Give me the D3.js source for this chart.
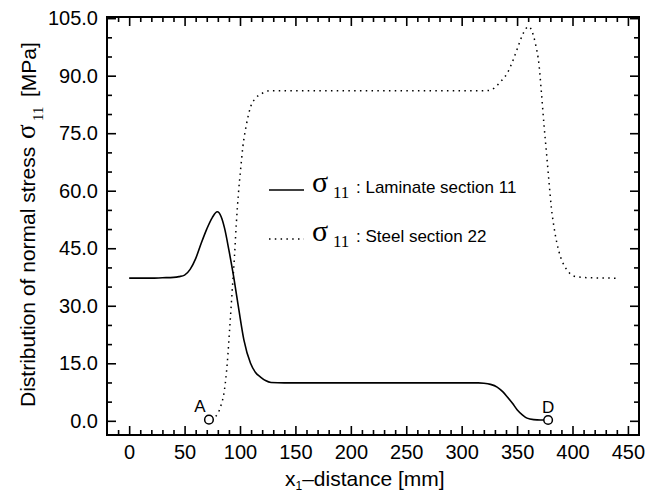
<!DOCTYPE html>
<html>
<head>
<meta charset="utf-8">
<script src="https://cdn.jsdelivr.net/npm/d3@7"></script>
<style>
  html, body { margin: 0; padding: 0; background: #fff; }
  svg { display: block; }
  text { font-family: "Liberation Sans", Arial, Helvetica, sans-serif; fill: #000; }
  .serif { font-family: "Liberation Serif", "Times New Roman", serif; }
</style>
</head>
<body>
<svg id="chart" width="658" height="494"></svg>
<script>
// ---- data ----
const laminateX = [0, 10, 20, 30, 40, 45, 50, 55, 60, 65, 70, 75, 79.5, 83, 86, 90, 94.5, 99, 103.5, 109.5, 114, 118.5, 123, 128, 140, 200, 250, 300, 315, 320, 326, 332, 337, 341, 346, 350, 355, 359, 365, 371, 378];
const laminateY = [37.2, 37.2, 37.2, 37.3, 37.4, 37.6, 38.0, 39.5, 42.3, 46.3, 50.0, 53.0, 54.5, 53.2, 50.3, 44.5, 37.2, 28.9, 21.1, 15.0, 12.6, 11.4, 10.5, 10.0, 9.9, 9.9, 9.9, 9.9, 9.9, 9.8, 9.5, 8.8, 7.6, 6.3, 4.5, 2.9, 1.5, 0.7, 0.3, 0.2, 0.2];

const steelX = [74, 78, 82.5, 86, 88.5, 90.6, 93, 95, 96.7, 98.5, 100.5, 102.6, 105.7, 109.6, 114, 120, 127.6, 140, 200, 250, 300, 318, 323, 329, 335, 341, 345.8, 350.3, 354.8, 358, 360.5, 363, 366.8, 369.8, 371.9, 374.3, 376.7, 378.8, 381, 384, 387.8, 393.9, 403, 415, 440];
const steelY = [0.3, 1.1, 3.7, 8.1, 15.0, 23.7, 34.1, 42.8, 51.5, 59.0, 65.4, 71.5, 77.1, 81.9, 84.1, 85.4, 86.1, 86.1, 86.1, 86.1, 86.1, 86.1, 86.1, 86.7, 88.4, 90.6, 93.6, 97.1, 100.6, 102.3, 102.8, 101.9, 98.0, 92.8, 85.8, 77.1, 69.3, 62.3, 55.4, 49.3, 44.1, 39.8, 37.6, 37.3, 37.2];

const xMajorTicks = [0, 50, 100, 150, 200, 250, 300, 350, 400, 450];
const xMinorTicks = d3.range(-10, 460, 10).filter(v => v % 50 !== 0);
const yMajorTicks = [0, 15, 30, 45, 60, 75, 90, 105];
const yMinorTicks = d3.range(0, 106, 5).filter(v => v % 15 !== 0);

const markerNames = ["A", "D"];
const markerX = [72, 378];
const markerY = [0.3, 0.2];

const legendLabels = [": Laminate section 11", ": Steel section 22"];

// ---- layout ----
const svg = d3.select("#chart");
const L = 107, R = 639, T = 17, B = 435;
const x = d3.scaleLinear().domain([-20, 460]).range([L, R]);
const y = d3.scaleLinear().domain([-3.7, 105.3]).range([B, T]);

function styleAxis(g) {
  g.select(".domain").remove();
  g.selectAll(".tick line").attr("stroke", "#000").attr("stroke-width", 1.6);
  g.selectAll(".tick text").style("font-size", "20px").attr("fill", "#000");
}
// bottom
svg.append("g").attr("transform", `translate(0,${B})`)
  .call(d3.axisBottom(x).tickValues(xMajorTicks).tickSize(-9).tickPadding(10).tickFormat(d3.format("d")))
  .call(styleAxis);
svg.append("g").attr("transform", `translate(0,${B})`)
  .call(d3.axisBottom(x).tickValues(xMinorTicks).tickSize(-5).tickFormat(""))
  .call(styleAxis);
// top
svg.append("g").attr("transform", `translate(0,${T})`)
  .call(d3.axisTop(x).tickValues(xMajorTicks).tickSize(-9).tickFormat(""))
  .call(styleAxis);
svg.append("g").attr("transform", `translate(0,${T})`)
  .call(d3.axisTop(x).tickValues(xMinorTicks).tickSize(-5).tickFormat(""))
  .call(styleAxis);
// left
svg.append("g").attr("transform", `translate(${L},0)`)
  .call(d3.axisLeft(y).tickValues(yMajorTicks).tickSize(-9).tickPadding(9).tickFormat(d3.format(".1f")))
  .call(styleAxis);
svg.append("g").attr("transform", `translate(${L},0)`)
  .call(d3.axisLeft(y).tickValues(yMinorTicks).tickSize(-5).tickFormat(""))
  .call(styleAxis);
// right
svg.append("g").attr("transform", `translate(${R},0)`)
  .call(d3.axisRight(y).tickValues(yMajorTicks).tickSize(-9).tickFormat(""))
  .call(styleAxis);
svg.append("g").attr("transform", `translate(${R},0)`)
  .call(d3.axisRight(y).tickValues(yMinorTicks).tickSize(-5).tickFormat(""))
  .call(styleAxis);

// frame
svg.append("rect").attr("x", L).attr("y", T).attr("width", R - L).attr("height", B - T)
  .attr("fill", "none").attr("stroke", "#000").attr("stroke-width", 2);

// curves
const line = d3.line().x(d => x(d[0])).y(d => y(d[1])).curve(d3.curveMonotoneX);
svg.append("path").datum(d3.zip(laminateX, laminateY))
  .attr("d", line).attr("fill", "none").attr("stroke", "#000").attr("stroke-width", 1.6);
svg.append("path").datum(d3.zip(steelX, steelY))
  .attr("d", line).attr("fill", "none").attr("stroke", "#000").attr("stroke-width", 1.5)
  .attr("stroke-dasharray", "1.5 4.3").attr("stroke-linecap", "butt");

// markers A and D
markerNames.forEach((name, i) => {
  svg.append("circle").attr("cx", x(markerX[i])).attr("cy", y(markerY[i])).attr("r", 4.3)
    .attr("fill", "#fff").attr("stroke", "#000").attr("stroke-width", 1.5);
});
svg.append("text").attr("x", x(markerX[0]) - 9).attr("y", y(markerY[0]) - 8)
  .attr("text-anchor", "middle").style("font-size", "17px").text(markerNames[0]);
svg.append("text").attr("x", x(markerX[1])).attr("y", y(markerY[1]) - 7.5)
  .attr("text-anchor", "middle").style("font-size", "17px").text(markerNames[1]);

// legend
const legendRows = [190, 239];
legendRows.forEach((ly, i) => {
  const ln = svg.append("line").attr("x1", 269).attr("x2", 304).attr("y1", ly).attr("y2", ly)
    .attr("stroke", "#000").attr("stroke-width", i === 0 ? 1.6 : 1.5);
  if (i === 1) ln.attr("stroke-dasharray", "1.5 4.3");
  svg.append("text").attr("class", "serif").attr("x", 312).attr("y", ly + 2)
    .style("font-size", "30px").text("σ");
  svg.append("text").attr("class", "serif").attr("x", 333).attr("y", ly + 8)
    .style("font-size", "17px").text("11");
  svg.append("text").attr("x", 356).attr("y", ly + 3)
    .style("font-size", "17px").text(legendLabels[i]);
});

// y axis title (pieces placed along the rotated baseline)
function yPiece(pos, dx, txt, size, cls) {
  const t = svg.append("text").attr("transform", `translate(${dx},${pos}) rotate(-90)`)
    .style("font-size", size + "px").text(txt);
  if (cls) t.attr("class", cls);
  return t;
}
yPiece(407, 35, "Distribution of normal stress", 21);
yPiece(139, 35, "σ", 27, "serif");
yPiece(121, 43, "11", 15, "serif");
yPiece(97, 36, "[MPa]", 21);

// x axis title
const xt = svg.append("text").attr("x", 285).attr("y", 486).style("font-size", "21px");
xt.append("tspan").text("x");
xt.append("tspan").style("font-size", "12px").attr("dy", 4).text("1");
xt.append("tspan").attr("dy", -4).text("–distance [mm]");
</script>
</body>
</html>
